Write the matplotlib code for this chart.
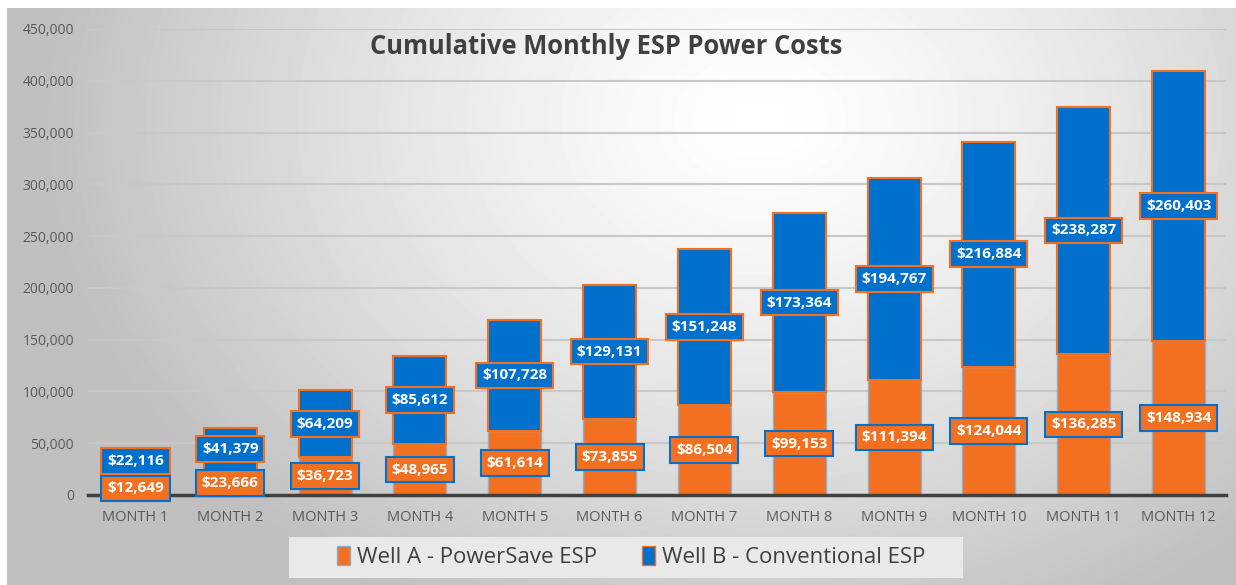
import numpy as np
import matplotlib.pyplot as plt
from matplotlib.patches import Patch, Rectangle

months = ["MONTH %d" % i for i in range(1, 13)]
well_a = [12649, 23666, 36723, 48965, 61614, 73855, 86504, 99153, 111394, 124044, 136285, 148934]
well_b = [22116, 41379, 64209, 85612, 107728, 129131, 151248, 173364, 194767, 216884, 238287, 260403]
yticks = [0, 50000, 100000, 150000, 200000, 250000, 300000, 350000, 400000, 450000]

ORANGE = "#F37021"
BLUE = "#0070CD"
TEXT = "#595959"

plt.rcParams["font.family"] = ["Open Sans", "DejaVu Sans"]

W, H = 1236, 585
fig = plt.figure(figsize=(W / 100, H / 100), dpi=100)
fig.patch.set_facecolor("white")

# radial grey gradient behind everything
bg = fig.add_axes([7 / W, 0, 1 - 7 / W, 1 - 8 / H], zorder=-10)
xx, yy = np.meshgrid(np.arange(7, W), np.arange(8, H))
r = np.hypot((xx - 760) / 720.0, (yy - 120) / 560.0)
shade = 1.0 - 0.25 * np.clip(r, 0, 1) ** 1.3
bg.imshow(shade, cmap="gray", vmin=0, vmax=1, aspect="auto", interpolation="bilinear")
bg.axis("off")

ax = fig.add_axes([88 / W, 1 - 495 / H, (1226 - 88) / W, (495 - 29) / H])
ax.patch.set_alpha(0)

x = np.arange(len(months))
a = np.array(well_a)
b = np.array(well_b)
ax.bar(x, a, width=0.56, color=ORANGE, edgecolor="#8faed0", linewidth=1, zorder=3)
ax.bar(x, b, bottom=a, width=0.56, color=BLUE, edgecolor=ORANGE, linewidth=1.5, zorder=3)

# data labels centred in each segment, blue pushed up if it would overlap
min_gap = 26500
for i in range(len(months)):
    ya = a[i] / 2
    yb = a[i] + b[i] / 2
    if yb - ya < min_gap:
        yb = ya + min_gap
    ax.text(x[i], ya, "${:,}".format(well_a[i]), ha="center", va="center",
            color="white", fontsize=11, fontweight="bold", zorder=5,
            bbox=dict(boxstyle="square,pad=0.38", fc=ORANGE, ec=BLUE, lw=1.5))
    ax.text(x[i], yb, "${:,}".format(well_b[i]), ha="center", va="center",
            color="white", fontsize=11, fontweight="bold", zorder=5,
            bbox=dict(boxstyle="square,pad=0.38", fc=BLUE, ec=ORANGE, lw=1.5))

ax.set_xlim(-0.5, len(months) - 0.5)
ax.set_ylim(0, 450000)
ax.set_yticks(yticks)
ax.set_yticklabels(["{:,}".format(v) for v in yticks])
ax.set_xticks(x)
ax.set_xticklabels(months)
ax.tick_params(axis="y", length=0, pad=10, labelsize=10, labelcolor=TEXT)
ax.tick_params(axis="x", length=0, pad=11, labelsize=10.5, labelcolor=TEXT)
ax.yaxis.grid(True, color="#c8c8c8", linewidth=1.5, zorder=0)
ax.set_axisbelow(True)
for s in ["top", "right", "left"]:
    ax.spines[s].set_visible(False)
ax.spines["bottom"].set_color("#404040")
ax.spines["bottom"].set_linewidth(2.5)
ax.spines["bottom"].set_zorder(4)

fig.text(606 / W, 1 - 46 / H, "Cumulative Monthly ESP Power Costs", ha="center", va="center",
         fontsize=18.4, fontweight="bold", color="#404040")

# legend panel
fig.patches.append(Rectangle((289 / W, 1 - 578 / H), (963 - 289) / W, 41 / H,
                             transform=fig.transFigure, facecolor="#e9e9e9",
                             edgecolor="none", zorder=1))
handles = [Patch(facecolor=ORANGE, edgecolor="#8faed0", label="Well A - PowerSave ESP"),
           Patch(facecolor=BLUE, edgecolor=ORANGE, label="Well B - Conventional ESP")]
fig.legend(handles=handles, loc="center", bbox_to_anchor=(631 / W, 1 - 557 / H), ncol=2,
           fontsize=16, frameon=False, handlelength=0.6, handleheight=0.9,
           handletextpad=0.3, columnspacing=2.0, labelcolor="#404040")

fig.savefig("out.png", dpi=100)
